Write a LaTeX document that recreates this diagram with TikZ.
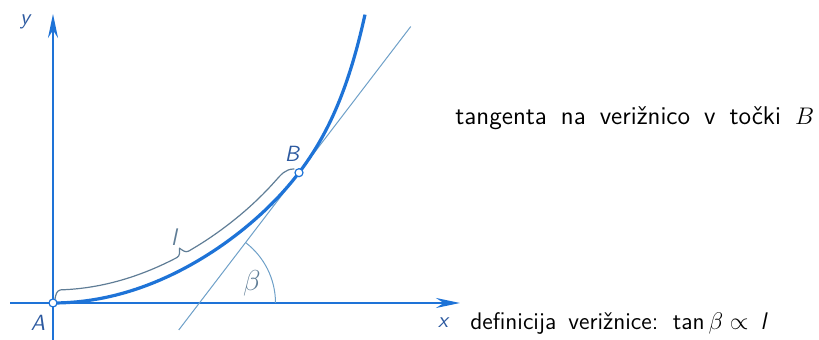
\documentclass[tikz,border=0pt]{standalone}
\usepackage{amsmath,amssymb}
\usetikzlibrary{arrows.meta,calc}
\definecolor{vblue}{RGB}{30,115,215}
\definecolor{vdark}{RGB}{45,90,160}
\definecolor{vthin}{RGB}{110,160,200}
\definecolor{vgrey}{RGB}{95,125,150}
\newcommand\vwide[1]{\spaceskip=#1 plus 1pt\relax}
\tikzset{
  declare function={
    cy(\u)=0.002*\u*\u+exp(\u/28.6-6.368)-0.0017;
    cs(\u)=0.004*\u+exp(\u/28.6-9.721);
    bx(\u)=53+\u-13*cs(\u)/sqrt(1+cs(\u)*cs(\u));
    by(\u)=37+cy(\u)+13/sqrt(1+cs(\u)*cs(\u));
  },
  vaxis/.style={vblue, line width=1.2pt, -{Stealth[length=12pt,width=5pt]}},
  vcurve/.style={vblue, line width=1.6pt},
  vtang/.style={vthin, line width=0.5pt},
  vbrace/.style={vgrey, line width=0.6pt, line cap=round},
  vlabel/.style={text=vdark, font=\sffamily\slshape\fontsize{11}{13}\selectfont, inner sep=0pt},
  vtext/.style={inner sep=0pt, anchor=base west},
  vpoint/.style={circle, draw=vblue, fill=white, line width=0.6pt, inner sep=0pt, minimum size=4pt}
}
\begin{document}
\begin{tikzpicture}[x=0.5pt,y=0.5pt]
  \useasboundingbox (0,0) rectangle (819,340);
  \coordinate (A) at (53,37);
  \coordinate (B) at (299,167.3);
  \coordinate (P) at (199.5,37);
  \coordinate (xs) at (10,37);
  \coordinate (xe) at (460,37);
  \coordinate (ys) at (53,0);
  \coordinate (ye) at (53,326);
  \coordinate (b0) at (55,41);
  \coordinate (b1) at ({bx(8)},{by(8)});
  \coordinate (lt) at ({bx(136)-3.2},{by(136)+6.2});
  \coordinate (b2) at ({bx(142)},{by(142)});
  \coordinate (b3) at (294,171);
  % axes
  \draw[vaxis] (xs) -- (xe);
  \draw[vaxis] (ys) -- (ye);
  % tangent in B and angle beta
  \draw[vtang] ($(B)+(232.6:198)$) -- ($(B)+(52.6:184)$);
  \draw[vtang] ($(P)+(76,0)$) arc[start angle=0,end angle=52.6,radius=76];
  % chain line
  \draw[vcurve] plot[domain=0:312,samples=80,smooth] ({53+\x},{37+cy(\x)});
  % arc length l
  \draw[vbrace] (b0) to[out=80,in=190] (b1)
    -- plot[domain=8:130,samples=30,smooth] ({bx(\x)},{by(\x)}) to[out=27,in=-93] (lt);
  \draw[vbrace] (lt) to[out=-33,in=207] (b2)
    -- plot[domain=142:232,samples=30,smooth] ({bx(\x)},{by(\x)}) to[out=48,in=180] (b3);
  \node[vpoint] (pA) at (A) {};
  \node[vpoint] (pB) at (B) {};
  % labels
  \node[vlabel] (ly) at (25,318) {y};
  \node[vlabel] (lx) at (443,17) {x};
  \node[vlabel] (lA) at (38,17) {A};
  \node[vlabel] (lB) at (292,186) {B};
  \node[text=vgrey, font=\fontsize{14}{16}\selectfont] (lb) at (252,57) {$\beta$};
  \node[vlabel, text=vgrey, font=\sffamily\slshape\fontsize{12}{14}\selectfont] (ll) at (174,103) {l};
  \node[vtext, font=\sffamily\fontsize{12.8}{15}\selectfont\vwide{7pt}] (t1) at (455,215) {tangenta na verižnico v točki $B$};
  \node[vtext, font=\sffamily\fontsize{12}{14}\selectfont\vwide{6pt}] (t2) at (470,10) {definicija verižnice: tan\,$\beta\propto$ \textsl{l}};
\end{tikzpicture}
\end{document}
